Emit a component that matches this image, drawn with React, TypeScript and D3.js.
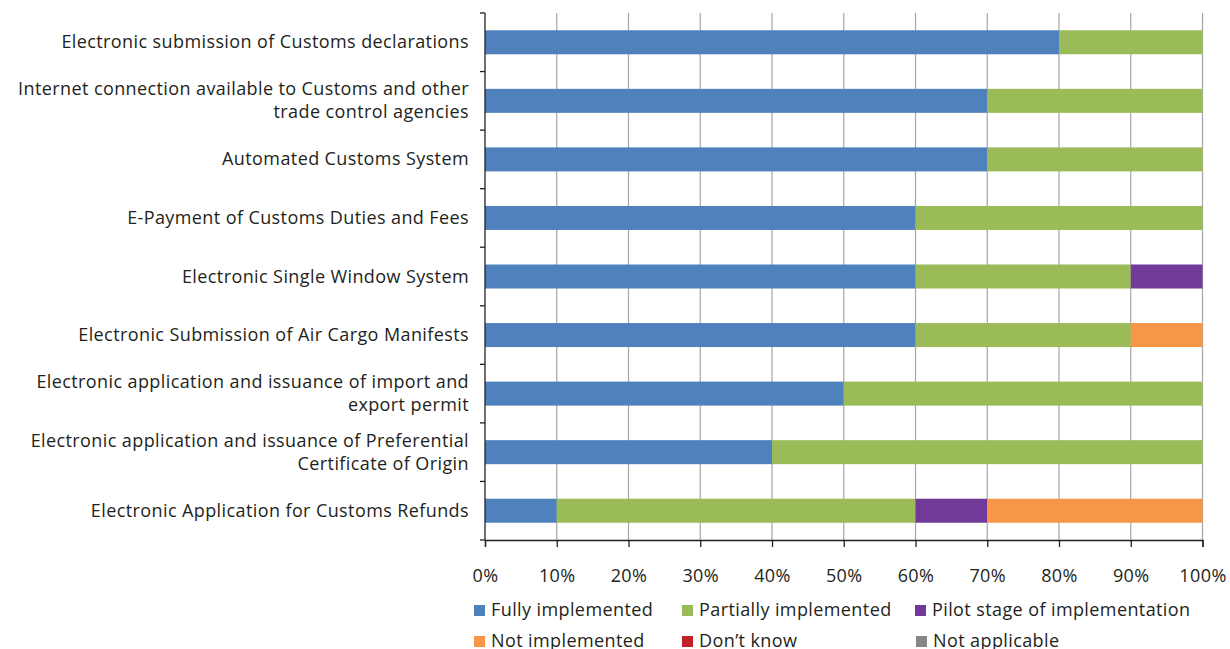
import { useEffect, useRef } from 'react'
import * as d3 from 'd3'

const categories = [
  'Electronic submission of Customs declarations',
  'Internet connection available to Customs and other|trade control agencies',
  'Automated Customs System',
  'E-Payment of Customs Duties and Fees',
  'Electronic Single Window System',
  'Electronic Submission of Air Cargo Manifests',
  'Electronic application and issuance of import and|export permit',
  'Electronic application and issuance of Preferential|Certificate of Origin',
  'Electronic Application for Customs Refunds',
]

const seriesNames = [
  'Fully implemented',
  'Partially implemented',
  'Pilot stage of implementation',
  'Not implemented',
  'Don\u2019t know',
  'Not applicable',
]

const fully = [80, 70, 70, 60, 60, 60, 50, 40, 10]
const partially = [20, 30, 30, 40, 30, 30, 50, 60, 50]
const pilot = [0, 0, 0, 0, 10, 0, 0, 0, 10]
const notImplemented = [0, 0, 0, 0, 0, 10, 0, 0, 30]
const dontKnow = [0, 0, 0, 0, 0, 0, 0, 0, 0]
const notApplicable = [0, 0, 0, 0, 0, 0, 0, 0, 0]

const xTicks = [0, 10, 20, 30, 40, 50, 60, 70, 80, 90, 100]

const COLORS = ['#4f81bd', '#9bbb59', '#71399a', '#f79646', '#c0202a', '#868686']
const FONT = '"Open Sans", "Noto Sans", sans-serif'
const TEXT = '#231f20'
const FS = '18px'
const LS = '0.4px'

export default function App() {
  const ref = useRef<SVGSVGElement>(null)

  useEffect(() => {
    if (!ref.current) return
    const svg = d3.select(ref.current)
    svg.selectAll('*').remove()

    const width = 1230
    const height = 649
    const left = 485
    const right = 1202.5
    const top = 13
    const bottom = 540

    const x = d3.scaleLinear().domain([0, 100]).range([left, right])
    const y = d3.scaleBand().domain(categories).range([top, bottom]).paddingInner(0.59).paddingOuter(0.295)
    const band = d3.scaleBand().domain(categories).range([top, bottom])

    const values = [fully, partially, pilot, notImplemented, dontKnow, notApplicable]
    const rows = categories.map((c, i) => {
      const r: Record<string, number | string> = { cat: c }
      seriesNames.forEach((s, j) => { r[s] = values[j][i] })
      return r
    })
    const stacked = d3.stack<Record<string, number | string>>().keys(seriesNames)(rows as any)

    // gridlines
    svg.append('g')
      .selectAll('line')
      .data(xTicks.slice(1))
      .join('line')
      .attr('x1', d => x(d)).attr('x2', d => x(d))
      .attr('y1', top).attr('y2', bottom)
      .attr('stroke', '#a6a6a6').attr('stroke-width', 1.2)

    // bars
    stacked.forEach((layer, j) => {
      svg.append('g')
        .selectAll('rect')
        .data(layer.filter(d => d[1] - d[0] > 0))
        .join('rect')
        .attr('x', d => x(d[0]))
        .attr('width', d => x(d[1]) - x(d[0]))
        .attr('y', d => y(d.data.cat as string)!)
        .attr('height', y.bandwidth())
        .attr('fill', COLORS[j])
    })

    // y axis
    const yAxis = svg.append('g').attr('stroke', '#231f20').attr('stroke-width', 1.3)
    yAxis.append('line').attr('x1', left).attr('x2', left).attr('y1', top).attr('y2', bottom)
    yAxis.selectAll('line.t')
      .data([...categories.map(c => band(c)!), bottom])
      .join('line').attr('class', 't')
      .attr('x1', left - 5).attr('x2', left).attr('y1', d => d).attr('y2', d => d)

    // x axis
    svg.append('g')
      .attr('transform', `translate(0,${bottom})`)
      .call(d3.axisBottom(x).tickValues(xTicks).tickSize(7).tickFormat(d => `${d}%`))
      .call(g => g.selectAll('.domain, .tick line').attr('stroke', '#231f20').attr('stroke-width', 1.3))
      .call(g => g.selectAll('text')
        .attr('font-family', FONT).attr('font-size', FS).attr('letter-spacing', LS)
        .attr('fill', TEXT).attr('y', 42).attr('dy', 0))

    // category labels
    categories.forEach(c => {
      const lines = c.split('|')
      const cy = y(c)! + y.bandwidth() / 2
      const t = svg.append('text')
        .attr('text-anchor', 'end')
        .attr('font-family', FONT).attr('font-size', FS).attr('letter-spacing', LS).attr('fill', TEXT)
      lines.forEach((l, k) => {
        t.append('tspan')
          .attr('x', 469)
          .attr('y', cy + 6 + (k - (lines.length - 1) / 2) * 23)
          .text(l)
      })
    })

    // legend
    const legendPos = [
      [474, 605], [682, 605], [915, 605],
      [474, 636], [682, 636], [916, 636],
    ]
    seriesNames.forEach((s, j) => {
      const [lx, ly] = legendPos[j]
      svg.append('rect').attr('x', lx).attr('y', ly).attr('width', 11).attr('height', 11).attr('fill', COLORS[j])
      svg.append('text')
        .attr('x', lx + 17).attr('y', ly + 11)
        .attr('font-family', FONT).attr('font-size', FS).attr('letter-spacing', LS).attr('fill', TEXT)
        .text(s)
    })

    svg.attr('width', width).attr('height', height)
  }, [])

  return (
    <div style={{ position: 'absolute', left: 0, top: 0 }}>
      <svg ref={ref} style={{ display: 'block', background: '#fff' }} />
    </div>
  )
}
